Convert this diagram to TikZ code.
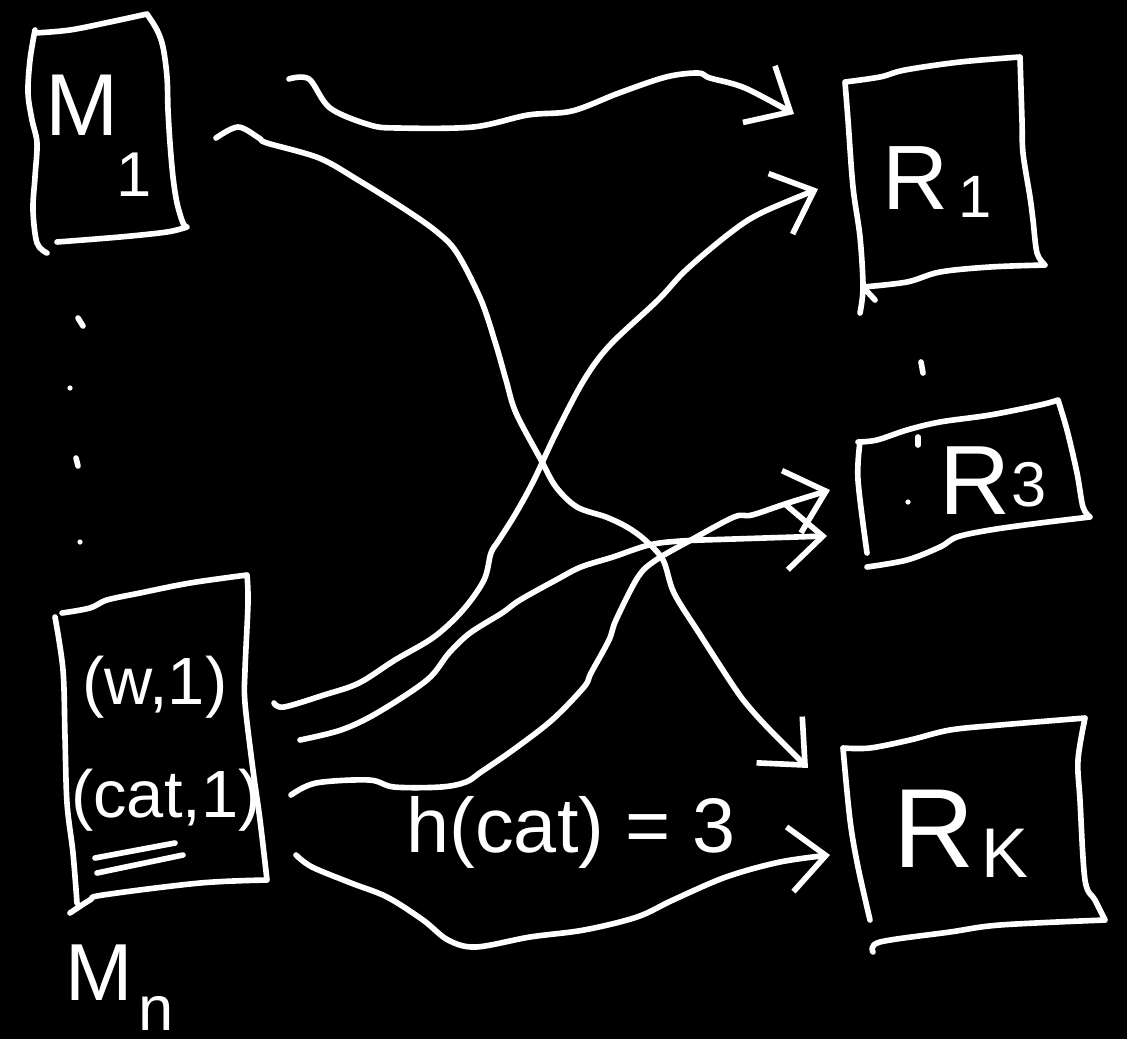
\documentclass[tikz,border=0pt]{standalone}
\usepackage{fontspec}
\setmainfont{Liberation Sans}
\usetikzlibrary{arrows.meta}
\begin{document}
\begin{tikzpicture}[x=0.01cm,y=-0.01cm,
  ink/.style={draw=white,line width=1.6pt,line cap=round,line join=round},
  conn/.style={ink,-{Straight Barb[length=3.6mm,width=6.5mm]}},
  lbl/.style={text=white,inner sep=0pt},
  spot/.style={fill=white},
  sm/.style={smooth,tension=0.55}
]
\fill[black] (0,0) rectangle (1127,1039);
\useasboundingbox (0,0) rectangle (1127,1039);

% ---------- mapper M1 ----------
\draw[ink] plot[sm] coordinates {(35,33) (70,30) (110,22) (147,14)}
           plot[sm] coordinates {(147,14) (157,30) (163,47) (167,77) (168,110) (170,143) (173,177) (177,203) (183,223) (187,227)}
           plot[sm] coordinates {(187,227) (167,232) (120,237) (57,242)}
           plot[sm] coordinates {(35,30) (30,60) (28,93) (32,120) (37,143) (35,177) (33,210) (37,243) (47,253)};
\node[lbl,font=\fontsize{25}{25}\selectfont] (m1M) at (82,105) {M};
\node[lbl,font=\fontsize{18}{18}\selectfont] (m1s) at (134,175) {1};

% ---------- dots ----------
\draw[ink] (78,318) -- (83,326);
\fill[spot] (70,388) circle (2.6);
\draw[ink] (76,458) -- (78,466);
\fill[spot] (80,542) circle (2.6);

% ---------- mapper Mn ----------
\draw[ink] plot[sm] coordinates {(62,613) (90,608) (107,600) (140,593) (190,583) (247,575)}
           plot[sm] coordinates {(247,575) (248,603) (245,670) (245,703) (253,770) (260,820) (267,880)}
           plot[sm] coordinates {(267,880) (200,883) (103,895) (90,900) (70,913)}
           plot[sm] coordinates {(55,617) (63,670) (65,737) (67,803) (73,853) (77,903)};
\node[lbl,font=\fontsize{19}{19}\selectfont] (w1) at (155,687) {(w,1)};
\node[lbl,font=\fontsize{19}{19}\selectfont] (cat1) at (166,800) {(cat,1)};
\draw[ink] (95,858) -- (175,843);
\draw[ink] (97,873) -- (183,855);
\node[lbl,font=\fontsize{23}{23}\selectfont] (mnM) at (99,973) {M};
\node[lbl,font=\fontsize{18}{18}\selectfont] (mns) at (156,1013) {n};

% ---------- reducer R1 ----------
\draw[ink] plot[sm] coordinates {(845,82) (880,77) (905,70) (960,62) (1020,57)}
           plot[sm] coordinates {(1020,57) (1022,120) (1023,153) (1030,197) (1033,220) (1037,253) (1045,265)}
           plot[sm] coordinates {(1045,265) (990,267) (940,272) (907,282) (863,287)}
           plot[sm] coordinates {(845,82) (848,120) (853,187) (860,237) (863,287) (860,313)};
\draw[ink] (863,287) -- (875,300);
\node[lbl,font=\fontsize{26}{26}\selectfont] (r1R) at (916,178) {R};
\node[lbl,font=\fontsize{17}{17}\selectfont] (r1s) at (975,197) {1};

\draw[ink] (921,362) -- (923,373);

% ---------- reducer R3 ----------
\draw[ink] plot[sm] coordinates {(858,442) (877,440) (907,430) (940,422) (990,415) (1040,405) (1058,400)}
           plot[sm] coordinates {(1058,400) (1067,430) (1077,473) (1083,507) (1090,517)}
           plot[sm] coordinates {(1090,517) (1040,523) (990,530) (957,537) (940,547) (907,560) (867,567)}
           plot[sm] coordinates {(860,442) (858,480) (867,553)};
\draw[ink] (918,437) -- (918,445);
\fill[spot] (908,502) circle (2.6);
\node[lbl,font=\fontsize{28}{28}\selectfont] (r3R) at (975,481) {R};
\node[lbl,font=\fontsize{18}{18}\selectfont] (r3s) at (1029,485) {3};

% ---------- reducer RK ----------
\draw[ink] plot[sm] coordinates {(843,748) (870,748) (910,740) (950,730) (1000,725) (1085,718)}
           plot[sm] coordinates {(1085,718) (1078,760) (1080,800) (1085,880) (1095,900) (1105,920)}
           plot[sm] coordinates {(1105,920) (1000,925) (950,932) (880,942) (873,952)}
           plot[sm] coordinates {(843,748) (850,820) (858,867) (870,920)};
\node[lbl,font=\fontsize{32}{32}\selectfont] (rkR) at (934,829) {R};
\node[lbl,font=\fontsize{20}{20}\selectfont] (rkK) at (1005,853) {K};

% ---------- connector end points ----------
\coordinate (a1s) at (289,79);   \coordinate (a1e) at (794,114);
\coordinate (a2s) at (216,138);  \coordinate (a2e) at (808,768);
\coordinate (a3s) at (274,703);  \coordinate (a3e) at (818,189);
\coordinate (a4s) at (300,740);  \coordinate (a4e) at (827,536);
\coordinate (a5s) at (291,795);  \coordinate (a5e) at (830,490);
\coordinate (a6s) at (296,855);  \coordinate (a6e) at (830,855);

% ---------- connectors ----------
\draw[conn] plot[sm] coordinates {(a1s) (309,79) (330,108) (370,125) (398,128) (473,127) (528,115) (572,111) (619,93) (666,77) (698,73) (710,78) (745,88) (a1e)};
\draw[conn] plot[sm] coordinates {(a2s) (238,127) (259,138) (267,143) (319,158) (358,180) (406,210) (437,232) (457,253) (481,300) (496,345) (506,380) (516,413) (541,460) (556,487) (577,507) (606,517) (627,527) (645,540) (663,560) (674,593) (699,633) (734,687) (749,707) (770,730) (a2e)};
\draw[conn] plot[sm] coordinates {(a3s) (284,707) (324,695) (359,683) (395,660) (434,637) (463,610) (484,580) (491,553) (499,540) (516,513) (534,480) (556,433) (584,380) (610,345) (658,300) (686,270) (730,233) (761,213) (a3e)};
\draw[conn] plot[sm] coordinates {(a4s) (341,730) (377,713) (427,680) (449,653) (470,633) (502,613) (520,600) (556,580) (581,567) (613,557) (649,545) (681,541) (734,539) (a4e)};
\draw[conn] plot[sm] coordinates {(a5s) (316,783) (369,780) (394,787) (441,787) (466,782) (481,772) (513,750) (552,720) (584,687) (591,673) (609,640) (616,620) (638,577) (656,560) (691,540) (734,517) (752,515) (788,503) (a5e)};
\draw[conn] plot[sm] coordinates {(a6s) (312,867) (351,883) (387,897) (423,920) (448,940) (476,947) (530,937) (584,930) (637,917) (673,900) (726,877) (780,862) (a6e)};

\node[lbl,font=\fontsize{22}{22}\selectfont] (hlbl) at (571,832) {h(cat) = 3};
\end{tikzpicture}
\end{document}
